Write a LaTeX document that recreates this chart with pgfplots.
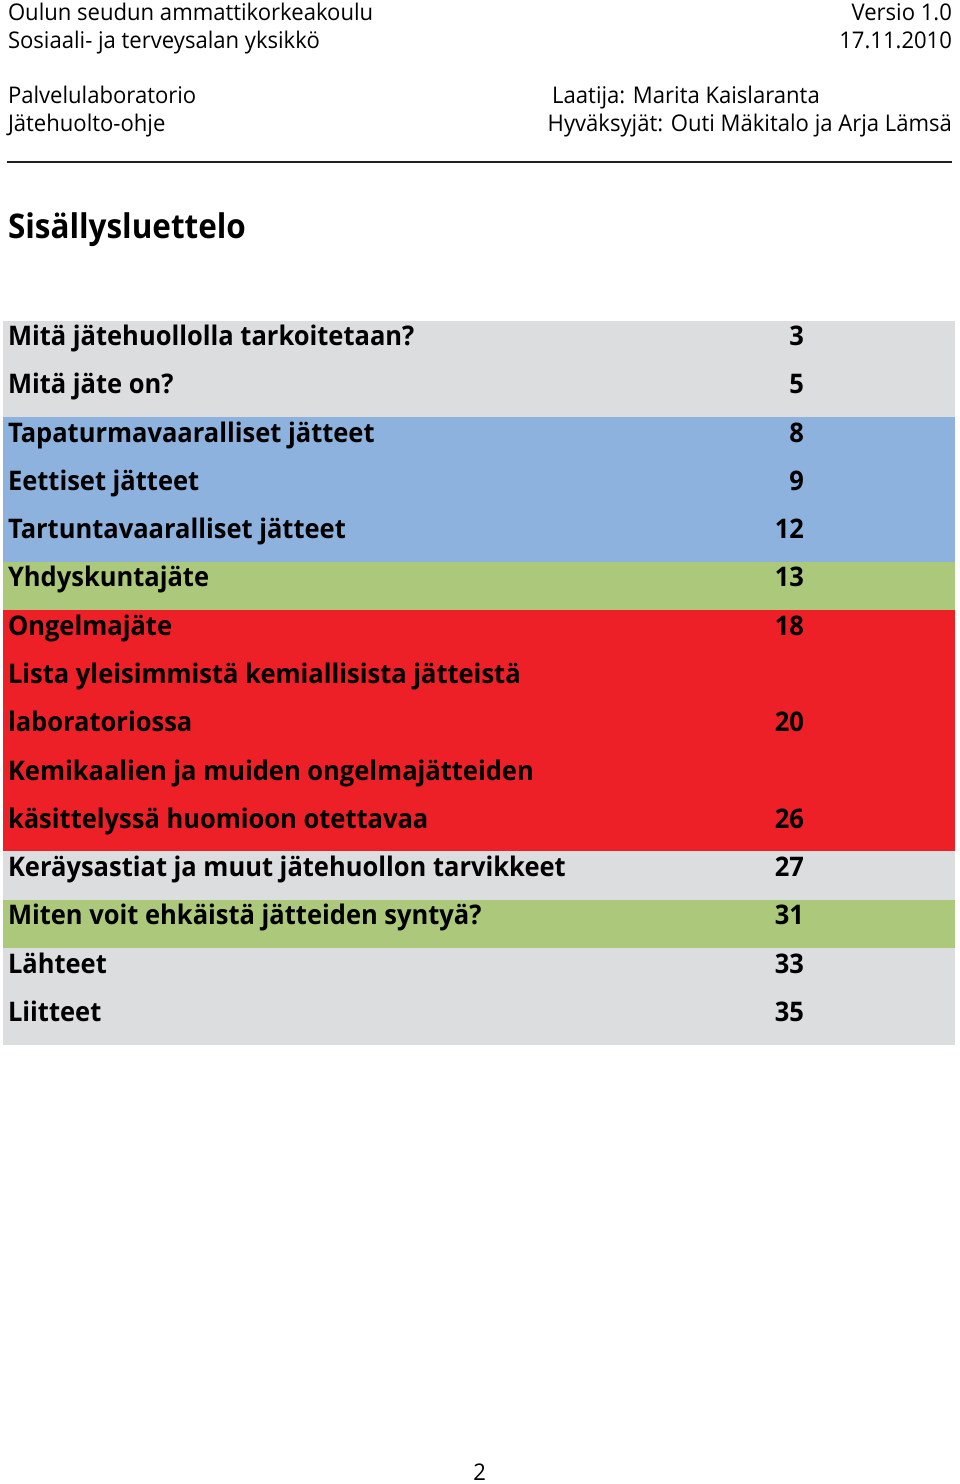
\documentclass[border=0pt]{standalone}
\usepackage{fontspec}
\setmainfont{Open Sans}
\newfontfamily\hfam[FakeStretch=0.96]{Open Sans}
\newfontfamily\rfam[FakeStretch=0.945]{Open Sans}
\newfontfamily\tfam[FakeStretch=0.925]{Open Sans}
\usepackage{pgfplots}
\pgfplotsset{compat=1.18}
\definecolor{rgray}{RGB}{220,221,222}
\definecolor{rblue}{RGB}{141,178,222}
\definecolor{rgreen}{RGB}{172,200,122}
\definecolor{rred}{RGB}{236,32,38}
\definecolor{txt}{RGB}{35,31,32}
\newcommand{\hf}{\hfam\fontsize{23}{28}\selectfont}
\newcommand{\rf}{\rfam\fontsize{27}{32}\selectfont\bfseries}
\begin{document}
\begin{tikzpicture}
\begin{axis}[
  width=960pt, height=1484pt, scale only axis,
  xmin=0, xmax=960, ymin=0, ymax=1484, y dir=reverse,
  hide axis, clip=false,
  every node/.style={text=txt, inner sep=0pt}]
\addplot[draw=none] coordinates {(0,0) (960,1484)};
% bands
\addplot[fill=rgray, draw=none] coordinates {(3,320) (956,320) (956,416.6) (3,416.6)} -- cycle;
\addplot[fill=rblue, draw=none] coordinates {(3,416.6) (956,416.6) (956,561.2) (3,561.2)} -- cycle;
\addplot[fill=rgreen, draw=none] coordinates {(3,561.2) (956,561.2) (956,609.5) (3,609.5)} -- cycle;
\addplot[fill=rred, draw=none] coordinates {(3,609.5) (956,609.5) (956,851) (3,851)} -- cycle;
\addplot[fill=rgray, draw=none] coordinates {(3,851) (956,851) (956,899.5) (3,899.5)} -- cycle;
\addplot[fill=rgreen, draw=none] coordinates {(3,899.5) (956,899.5) (956,948) (3,948)} -- cycle;
\addplot[fill=rgray, draw=none] coordinates {(3,948) (956,948) (956,1044.5) (3,1044.5)} -- cycle;
% header rule
\addplot[line width=1.6pt, txt] coordinates {(7,161) (953,161)};
% header text
\node[anchor=base west, font=\hf] at (axis cs:4.5,20) {Oulun seudun ammattikorkeakoulu};
\node[anchor=base west, font=\hf] at (axis cs:4.5,48) {Sosiaali- ja terveysalan yksikkö};
\node[anchor=base west, font=\hf] at (axis cs:4.5,103) {Palvelulaboratorio};
\node[anchor=base west, font=\hf] at (axis cs:4.5,131) {Jätehuolto-ohje};
\node[anchor=base east, font=\hf] at (axis cs:956,20) {Versio 1.0};
\node[anchor=base east, font=\hf] at (axis cs:956,48) {17.11.2010};
\node[anchor=base west, font=\hf] at (axis cs:549,103) {Laatija: Marita Kaislaranta};
\node[anchor=base east, font=\hf] at (axis cs:956,131) {Hyväksyjät: Outi Mäkitalo ja Arja Lämsä};
\node[anchor=base west, font=\tfam\fontsize{34}{40}\selectfont\bfseries] at (axis cs:4.5,238) {Sisällysluettelo};
% rows
\node[anchor=base west, font=\rf] at (axis cs:4.5,345) {Mitä jätehuollolla tarkoitetaan?};
\node[anchor=base west, font=\rf] at (axis cs:4.5,393.3) {Mitä jäte on?};
\node[anchor=base west, font=\rf] at (axis cs:4.5,441.6) {Tapaturmavaaralliset jätteet};
\node[anchor=base west, font=\rf] at (axis cs:4.5,489.9) {Eettiset jätteet};
\node[anchor=base west, font=\rf] at (axis cs:4.5,538.2) {Tartuntavaaralliset jätteet};
\node[anchor=base west, font=\rf] at (axis cs:4.5,586.5) {Yhdyskuntajäte};
\node[anchor=base west, font=\rf] at (axis cs:4.5,634.8) {Ongelmajäte};
\node[anchor=base west, font=\rf] at (axis cs:4.5,683.1) {Lista yleisimmistä kemiallisista jätteistä};
\node[anchor=base west, font=\rf] at (axis cs:4.5,731.4) {laboratoriossa};
\node[anchor=base west, font=\rf] at (axis cs:4.5,779.7) {Kemikaalien ja muiden ongelmajätteiden};
\node[anchor=base west, font=\rf] at (axis cs:4.5,828) {käsittelyssä huomioon otettavaa};
\node[anchor=base west, font=\rf] at (axis cs:4.5,876.3) {Keräysastiat ja muut jätehuollon tarvikkeet};
\node[anchor=base west, font=\rf] at (axis cs:4.5,924.6) {Miten voit ehkäistä jätteiden syntyä?};
\node[anchor=base west, font=\rf] at (axis cs:4.5,972.9) {Lähteet};
\node[anchor=base west, font=\rf] at (axis cs:4.5,1021.2) {Liitteet};
\node[anchor=base east, font=\rf] at (axis cs:808,345) {3};
\node[anchor=base east, font=\rf] at (axis cs:808,393.3) {5};
\node[anchor=base east, font=\rf] at (axis cs:808,441.6) {8};
\node[anchor=base east, font=\rf] at (axis cs:808,489.9) {9};
\node[anchor=base east, font=\rf] at (axis cs:808,538.2) {12};
\node[anchor=base east, font=\rf] at (axis cs:808,586.5) {13};
\node[anchor=base east, font=\rf] at (axis cs:808,634.8) {18};
\node[anchor=base east, font=\rf] at (axis cs:808,731.4) {20};
\node[anchor=base east, font=\rf] at (axis cs:808,828) {26};
\node[anchor=base east, font=\rf] at (axis cs:808,876.3) {27};
\node[anchor=base east, font=\rf] at (axis cs:808,924.6) {31};
\node[anchor=base east, font=\rf] at (axis cs:808,972.9) {33};
\node[anchor=base east, font=\rf] at (axis cs:808,1021.2) {35};
\node[anchor=base, font=\hf] at (axis cs:480,1480) {2};
\end{axis}
\end{tikzpicture}
\end{document}
